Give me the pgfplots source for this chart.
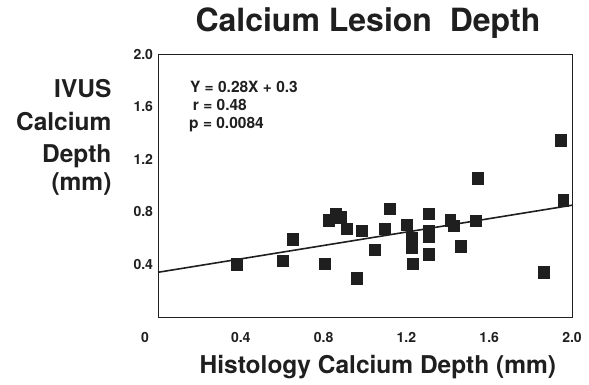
\documentclass[border=0pt]{standalone}
\usepackage{pgfplots}
\pgfplotsset{compat=1.18}
\usepackage{fontspec}
\setmainfont{TeX Gyre Heros}
\definecolor{ink}{gray}{0.12}
\newcommand\ttlfont{\fontsize{32bp}{32bp}\selectfont\bfseries}
\newcommand\labfont{\fontsize{24.5bp}{24.5bp}\selectfont\bfseries}
\newcommand\tickfont{\fontsize{14bp}{14bp}\selectfont\bfseries}
\newcommand\statfont{\fontsize{15.5bp}{15.5bp}\selectfont\bfseries}
\begin{document}
\begin{tikzpicture}
\path[use as bounding box] (0bp,0bp) rectangle (589bp,-385bp);
\begin{axis}[
  at={(158bp,-317bp)}, anchor=south west,
  scale only axis, width=414bp, height=263bp,
  xmin=0, xmax=2, ymin=0, ymax=2,
  axis line style={draw=ink, line width=1bp},
  major tick length=0pt,
  xtick={0.4,0.8,1.2,1.6,2.0},
  xticklabels={0.4,0.8,1.2,1.6,2.0},
  extra x ticks={0}, extra x tick labels={0},
  extra x tick style={xticklabel style={xshift=-13bp}},
  ytick={0.4,0.8,1.2,1.6,2.0},
  yticklabels={0.4,0.8,1.2,1.6,2.0},
  xticklabel style={font=\tickfont, text=ink, anchor=base, yshift=-25.7bp},
  yticklabel style={font=\tickfont, text=ink, xshift=-1.5bp},
  title={Calcium Lesion\ \ Depth},
  title style={at={(axis description cs:0.507,1.0646)}, anchor=base, font=\ttlfont, text=ink},
  xlabel={Histology Calcium Depth (mm)},
  xlabel style={at={(axis description cs:0.531,-0.213)}, anchor=base, font=\labfont, text=ink},
  clip=false,
]
\addplot[only marks, mark=square*, mark size=5.4bp, mark options={draw=ink, fill=ink, yscale=1.08}] coordinates {
(0.382,0.403) (0.601,0.428) (0.649,0.592) (0.805,0.405) (0.826,0.734)
(0.858,0.785) (0.881,0.759) (0.910,0.671) (0.961,0.296) (0.984,0.656)
(1.045,0.511) (1.095,0.671) (1.119,0.823) (1.200,0.701) (1.224,0.600)
(1.224,0.532) (1.232,0.405) (1.306,0.785) (1.306,0.651) (1.306,0.613)
(1.306,0.478) (1.412,0.734) (1.428,0.694) (1.462,0.539) (1.535,0.732)
(1.543,1.056) (1.863,0.342) (1.944,1.347) (1.957,0.886)
};
\addplot[ink, line width=1.6bp] coordinates {(0,0.34) (2,0.85)};
\node[anchor=base west, font=\statfont, text=ink, inner sep=0pt] at (axis description cs:0.077,0.8555) {Y = 0.28X + 0.3};
\node[anchor=base west, font=\statfont, text=ink, inner sep=0pt] at (axis description cs:0.084,0.7840) {r = 0.48};
\node[anchor=base west, font=\statfont, text=ink, inner sep=0pt] at (axis description cs:0.075,0.7183) {p = 0.0084};
\node[anchor=base east, font=\labfont, text=ink, inner sep=0pt] at (axis description cs:-0.112,0.8365) {IVUS};
\node[anchor=base east, font=\labfont, text=ink, inner sep=0pt] at (axis description cs:-0.112,0.7110) {Calcium};
\node[anchor=base east, font=\labfont, text=ink, inner sep=0pt] at (axis description cs:-0.112,0.5890) {Depth};
\node[anchor=base east, font=\labfont, text=ink, inner sep=0pt] at (axis description cs:-0.112,0.4810) {(mm)};
\end{axis}
\end{tikzpicture}
\end{document}
